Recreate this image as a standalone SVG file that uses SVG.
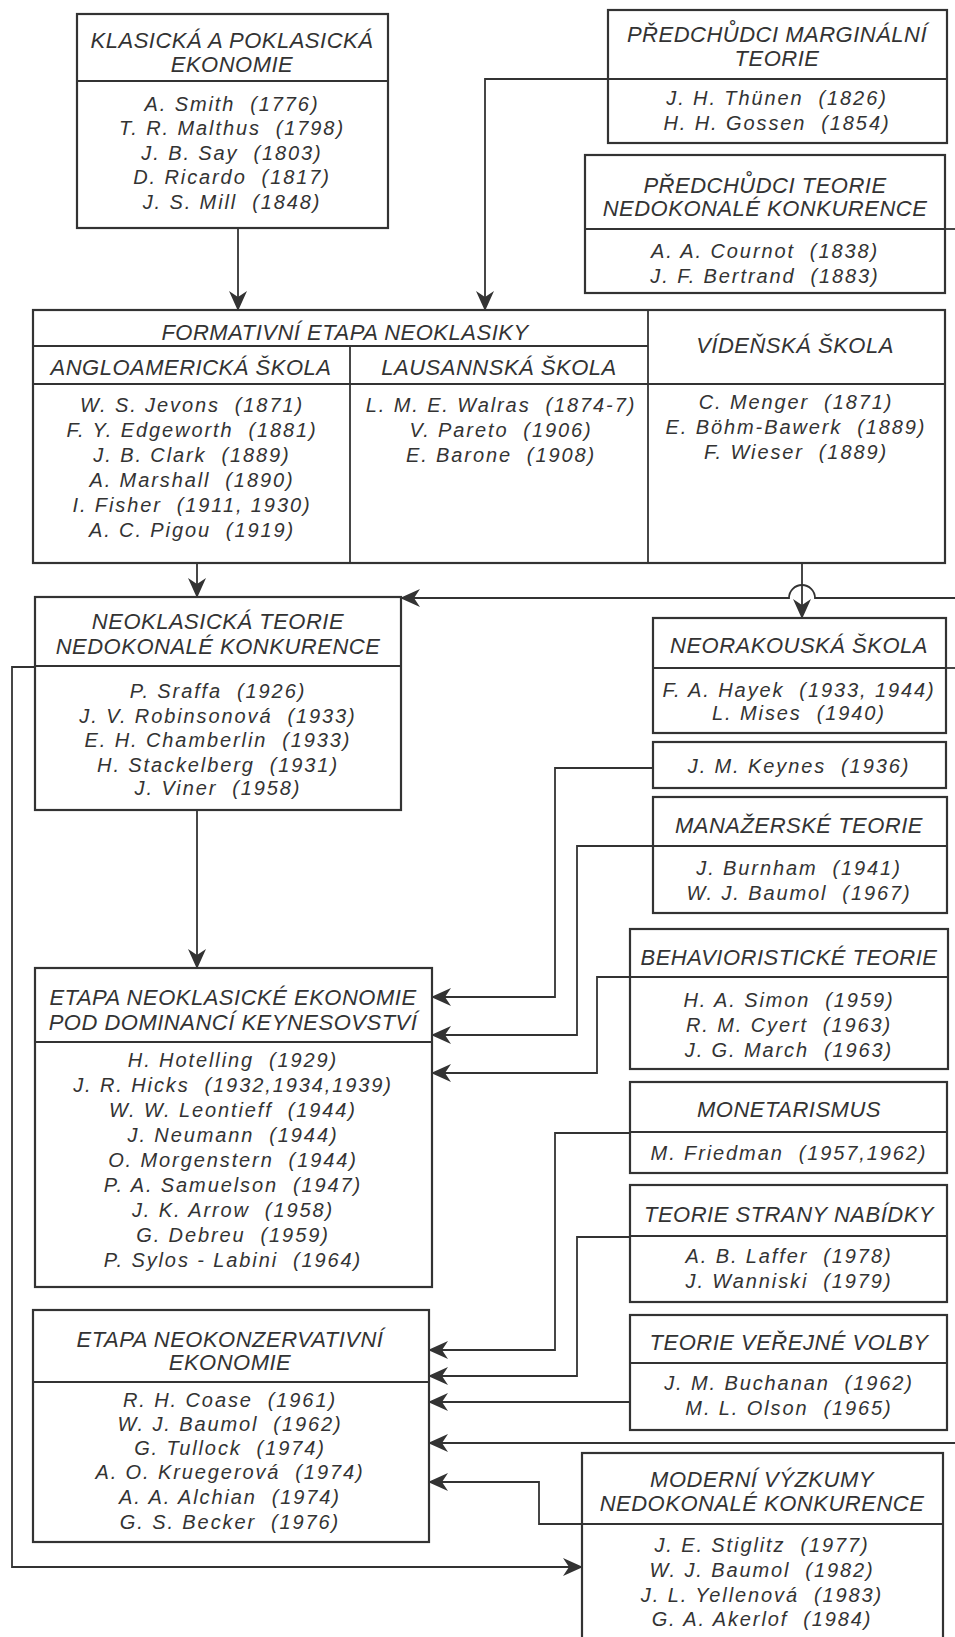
<svg xmlns="http://www.w3.org/2000/svg" width="955" height="1637" viewBox="0 0 955 1637">
<defs>
<style>
.bx{fill:none;stroke:#333;stroke-width:2.2}
.ln{fill:none;stroke:#333;stroke-width:1.8}
.cn{fill:none;stroke:#333;stroke-width:1.8}
text{font-family:"Liberation Sans",Arial,sans-serif;font-style:italic;fill:#333;text-anchor:middle;white-space:pre}
.h{font-size:22px;letter-spacing:0.5px}
.b{font-size:20px;letter-spacing:1.9px}
</style>
<marker id="ah" viewBox="0 0 20 20" refX="19" refY="10" markerWidth="20" markerHeight="20" markerUnits="userSpaceOnUse" orient="auto">
<path d="M20,10 L0,1 L6,10 L0,19 Z" fill="#333"/>
</marker>
</defs>
<rect width="955" height="1637" fill="#fff"/>

<g id="connectors">
<path class="cn" d="M238,228 V310" marker-end="url(#ah)"/>
<path class="cn" d="M608,79 H485 V310" marker-end="url(#ah)"/>
<path class="cn" d="M945,229 H955"/>
<path class="cn" d="M197,563 V597" marker-end="url(#ah)"/>
<path class="cn" d="M955,598 H815 A13,13 0 0 0 789,598 H401" marker-end="url(#ah)"/>
<path class="cn" d="M802,563 V618" marker-end="url(#ah)"/>
<path class="cn" d="M946,668 H955"/>
<path class="cn" d="M197,810 V968" marker-end="url(#ah)"/>
<path class="cn" d="M653,768 H555 V997 H432" marker-end="url(#ah)"/>
<path class="cn" d="M653,846 H577 V1035 H432" marker-end="url(#ah)"/>
<path class="cn" d="M630,977 H597 V1073 H432" marker-end="url(#ah)"/>
<path class="cn" d="M630,1133 H555 V1350 H429" marker-end="url(#ah)"/>
<path class="cn" d="M630,1237 H577 V1376 H429" marker-end="url(#ah)"/>
<path class="cn" d="M630,1402 H429" marker-end="url(#ah)"/>
<path class="cn" d="M955,1443 H429" marker-end="url(#ah)"/>
<path class="cn" d="M582,1524 H539 V1482 H429" marker-end="url(#ah)"/>
<path class="cn" d="M35,667 H12 V1567 H582" marker-end="url(#ah)"/>
</g>

<g id="klasicka">
<rect class="bx" x="77" y="14" width="311" height="214"/>
<line class="ln" x1="77" y1="81" x2="388" y2="81"/>
<text class="h" x="232" y="48">KLASICKÁ A POKLASICKÁ</text>
<text class="h" x="232" y="72">EKONOMIE</text>
<text class="b" x="232" y="111">A. Smith  (1776)</text>
<text class="b" x="232" y="135">T. R. Malthus  (1798)</text>
<text class="b" x="232" y="160">J. B. Say  (1803)</text>
<text class="b" x="232" y="184">D. Ricardo  (1817)</text>
<text class="b" x="232" y="209">J. S. Mill  (1848)</text>
</g>

<g id="marginalni">
<rect class="bx" x="608" y="10" width="339" height="133"/>
<line class="ln" x1="608" y1="79" x2="947" y2="79"/>
<text class="h" x="777" y="42">PŘEDCHŮDCI MARGINÁLNÍ</text>
<text class="h" x="777" y="66">TEORIE</text>
<text class="b" x="777" y="105">J. H. Thünen  (1826)</text>
<text class="b" x="777" y="130">H. H. Gossen  (1854)</text>
</g>

<g id="predchudci-nedokonale">
<rect class="bx" x="585" y="155" width="360" height="138"/>
<line class="ln" x1="585" y1="229" x2="945" y2="229"/>
<text class="h" x="765" y="193">PŘEDCHŮDCI TEORIE</text>
<text class="h" x="765" y="216">NEDOKONALÉ KONKURENCE</text>
<text class="b" x="765" y="258">A. A. Cournot  (1838)</text>
<text class="b" x="765" y="283">J. F. Bertrand  (1883)</text>
</g>

<g id="formativni">
<rect class="bx" x="33" y="310" width="912" height="253"/>
<line class="ln" x1="33" y1="346" x2="648" y2="346"/>
<line class="ln" x1="33" y1="384" x2="945" y2="384"/>
<line class="ln" x1="350" y1="346" x2="350" y2="563"/>
<line class="ln" x1="648" y1="310" x2="648" y2="563"/>
<text class="h" x="345" y="340">FORMATIVNÍ ETAPA NEOKLASIKY</text>
<text class="h" x="191" y="375">ANGLOAMERICKÁ ŠKOLA</text>
<text class="h" x="499" y="375">LAUSANNSKÁ ŠKOLA</text>
<text class="h" x="795" y="353">VÍDEŇSKÁ ŠKOLA</text>
<text class="b" x="192" y="412">W. S. Jevons  (1871)</text>
<text class="b" x="192" y="437">F. Y. Edgeworth  (1881)</text>
<text class="b" x="192" y="462">J. B. Clark  (1889)</text>
<text class="b" x="192" y="487">A. Marshall  (1890)</text>
<text class="b" x="192" y="512">I. Fisher  (1911, 1930)</text>
<text class="b" x="192" y="537">A. C. Pigou  (1919)</text>
<text class="b" x="501" y="412">L. M. E. Walras  (1874-7)</text>
<text class="b" x="501" y="437">V. Pareto  (1906)</text>
<text class="b" x="501" y="462">E. Barone  (1908)</text>
<text class="b" x="796" y="409">C. Menger  (1871)</text>
<text class="b" x="796" y="434">E. Böhm-Bawerk  (1889)</text>
<text class="b" x="796" y="459">F. Wieser  (1889)</text>
</g>

<g id="neoklasicka-nedokonala">
<rect class="bx" x="35" y="597" width="366" height="213"/>
<line class="ln" x1="35" y1="666" x2="401" y2="666"/>
<text class="h" x="218" y="629">NEOKLASICKÁ TEORIE</text>
<text class="h" x="218" y="654">NEDOKONALÉ KONKURENCE</text>
<text class="b" x="218" y="698">P. Sraffa  (1926)</text>
<text class="b" x="218" y="723">J. V. Robinsonová  (1933)</text>
<text class="b" x="218" y="747">E. H. Chamberlin  (1933)</text>
<text class="b" x="218" y="772">H. Stackelberg  (1931)</text>
<text class="b" x="218" y="795">J. Viner  (1958)</text>
</g>

<g id="neorakouska">
<rect class="bx" x="653" y="618" width="293" height="115"/>
<line class="ln" x1="653" y1="668" x2="946" y2="668"/>
<text class="h" x="799" y="653">NEORAKOUSKÁ ŠKOLA</text>
<text class="b" x="799" y="697">F. A. Hayek  (1933, 1944)</text>
<text class="b" x="799" y="720">L. Mises  (1940)</text>
</g>

<g id="keynes">
<rect class="bx" x="653" y="742" width="293" height="46"/>
<text class="b" x="799" y="773">J. M. Keynes  (1936)</text>
</g>

<g id="manazerske">
<rect class="bx" x="653" y="797" width="294" height="116"/>
<line class="ln" x1="653" y1="846" x2="947" y2="846"/>
<text class="h" x="799" y="833">MANAŽERSKÉ TEORIE</text>
<text class="b" x="799" y="875">J. Burnham  (1941)</text>
<text class="b" x="799" y="900">W. J. Baumol  (1967)</text>
</g>

<g id="behavioristicke">
<rect class="bx" x="630" y="929" width="318" height="140"/>
<line class="ln" x1="630" y1="977" x2="948" y2="977"/>
<text class="h" x="789" y="965">BEHAVIORISTICKÉ TEORIE</text>
<text class="b" x="789" y="1007">H. A. Simon  (1959)</text>
<text class="b" x="789" y="1032">R. M. Cyert  (1963)</text>
<text class="b" x="789" y="1057">J. G. March  (1963)</text>
</g>

<g id="etapa-neoklasicke">
<rect class="bx" x="35" y="968" width="397" height="319"/>
<line class="ln" x1="35" y1="1042" x2="432" y2="1042"/>
<text class="h" x="233" y="1005">ETAPA NEOKLASICKÉ EKONOMIE</text>
<text class="h" x="233" y="1030">POD DOMINANCÍ KEYNESOVSTVÍ</text>
<text class="b" x="233" y="1067">H. Hotelling  (1929)</text>
<text class="b" x="233" y="1092">J. R. Hicks  (1932,1934,1939)</text>
<text class="b" x="233" y="1117">W. W. Leontieff  (1944)</text>
<text class="b" x="233" y="1142">J. Neumann  (1944)</text>
<text class="b" x="233" y="1167">O. Morgenstern  (1944)</text>
<text class="b" x="233" y="1192">P. A. Samuelson  (1947)</text>
<text class="b" x="233" y="1217">J. K. Arrow  (1958)</text>
<text class="b" x="233" y="1242">G. Debreu  (1959)</text>
<text class="b" x="233" y="1267">P. Sylos - Labini  (1964)</text>
</g>

<g id="monetarismus">
<rect class="bx" x="630" y="1082" width="317" height="91"/>
<line class="ln" x1="630" y1="1132" x2="947" y2="1132"/>
<text class="h" x="789" y="1117">MONETARISMUS</text>
<text class="b" x="789" y="1160">M. Friedman  (1957,1962)</text>
</g>

<g id="strany-nabidky">
<rect class="bx" x="630" y="1185" width="317" height="117"/>
<line class="ln" x1="630" y1="1236" x2="947" y2="1236"/>
<text class="h" x="789" y="1222">TEORIE STRANY NABÍDKY</text>
<text class="b" x="789" y="1263">A. B. Laffer  (1978)</text>
<text class="b" x="789" y="1288">J. Wanniski  (1979)</text>
</g>

<g id="verejne-volby">
<rect class="bx" x="630" y="1315" width="317" height="115"/>
<line class="ln" x1="630" y1="1363" x2="947" y2="1363"/>
<text class="h" x="789" y="1350">TEORIE VEŘEJNÉ VOLBY</text>
<text class="b" x="789" y="1390">J. M. Buchanan  (1962)</text>
<text class="b" x="789" y="1415">M. L. Olson  (1965)</text>
</g>

<g id="etapa-neokonzervativni">
<rect class="bx" x="33" y="1310" width="396" height="232"/>
<line class="ln" x1="33" y1="1382" x2="429" y2="1382"/>
<text class="h" x="230" y="1347">ETAPA NEOKONZERVATIVNÍ</text>
<text class="h" x="230" y="1370">EKONOMIE</text>
<text class="b" x="230" y="1407">R. H. Coase  (1961)</text>
<text class="b" x="230" y="1431">W. J. Baumol  (1962)</text>
<text class="b" x="230" y="1455">G. Tullock  (1974)</text>
<text class="b" x="230" y="1479">A. O. Kruegerová  (1974)</text>
<text class="b" x="230" y="1504">A. A. Alchian  (1974)</text>
<text class="b" x="230" y="1529">G. S. Becker  (1976)</text>
</g>

<g id="moderni-vyzkumy">
<rect class="bx" x="582" y="1453" width="361" height="200"/>
<line class="ln" x1="582" y1="1524" x2="943" y2="1524"/>
<text class="h" x="762" y="1487">MODERNÍ VÝZKUMY</text>
<text class="h" x="762" y="1511">NEDOKONALÉ KONKURENCE</text>
<text class="b" x="762" y="1552">J. E. Stiglitz  (1977)</text>
<text class="b" x="762" y="1577">W. J. Baumol  (1982)</text>
<text class="b" x="762" y="1602">J. L. Yellenová  (1983)</text>
<text class="b" x="762" y="1626">G. A. Akerlof  (1984)</text>
</g>
</svg>
